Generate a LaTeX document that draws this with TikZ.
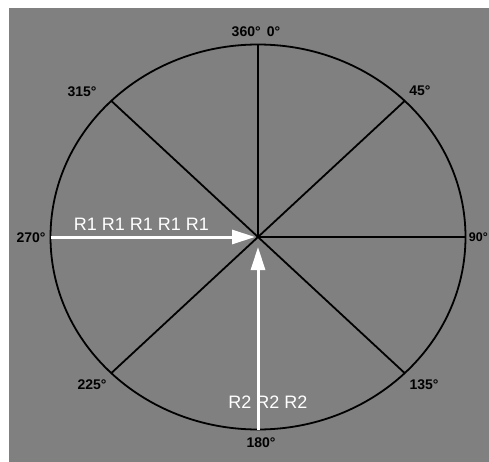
\documentclass[tikz,border=0pt]{standalone}
\usepackage{fontspec}
\setmainfont{Liberation Sans}
\usetikzlibrary{arrows.meta}
\definecolor{panel}{RGB}{128,128,128}

\begin{document}
\begin{tikzpicture}[x=1pt,y=-1pt,
    deg/.style={font=\fontsize{14}{14}\selectfont\bfseries, inner sep=0pt},
    rlabel/.style={white, font=\fontsize{18}{18}\selectfont, inner sep=0pt},
    spoke/.style={line width=1.8pt},
    push/.style={white, line width=3pt, -{Triangle[length=23pt,width=14pt]}}]
    \useasboundingbox (0,0) rectangle (489,462);
    % background
    \fill[panel] (9,8) rectangle (489,462);

    % rim
    \coordinate (hub) at (258,237);
    \draw[spoke] (hub) ellipse [x radius=207.5pt, y radius=192.5pt];
    \foreach \a in {0,45,90,135,180,225,270,315}
        \path (hub) ++(\a:207.5pt and 192.5pt) coordinate (rim\a);

    % spokes
    \foreach \a in {0,45,90,135,225,315}
        \draw[spoke] (hub) -- (rim\a);

    % forces
    \draw[push, shorten >=3pt] (rim180) -- (hub);
    \draw[push, shorten >=10pt] (rim270) -- (hub);
    \node[rlabel] (r1) at (141.5,224) {R1 R1 R1 R1 R1};
    \node[rlabel] (r2) at (268,402) {R2 R2 R2};

    % degree labels
    \node[deg] (d0) at (256,31.5) {360°\,\ 0°};
    \node[deg] (d45) at (420,91) {45°};
    \node[deg, font=\fontsize{12.5}{12.5}\selectfont\bfseries, anchor=east] (d90) at (488,237) {90°};
    \node[deg] (d135) at (424,385) {135°};
    \node[deg] (d180) at (261,443) {180°};
    \node[deg] (d225) at (92,385) {225°};
    \node[deg] (d270) at (31,237.5) {270°};
    \node[deg] (d315) at (82,92) {315°};
\end{tikzpicture}
\end{document}
